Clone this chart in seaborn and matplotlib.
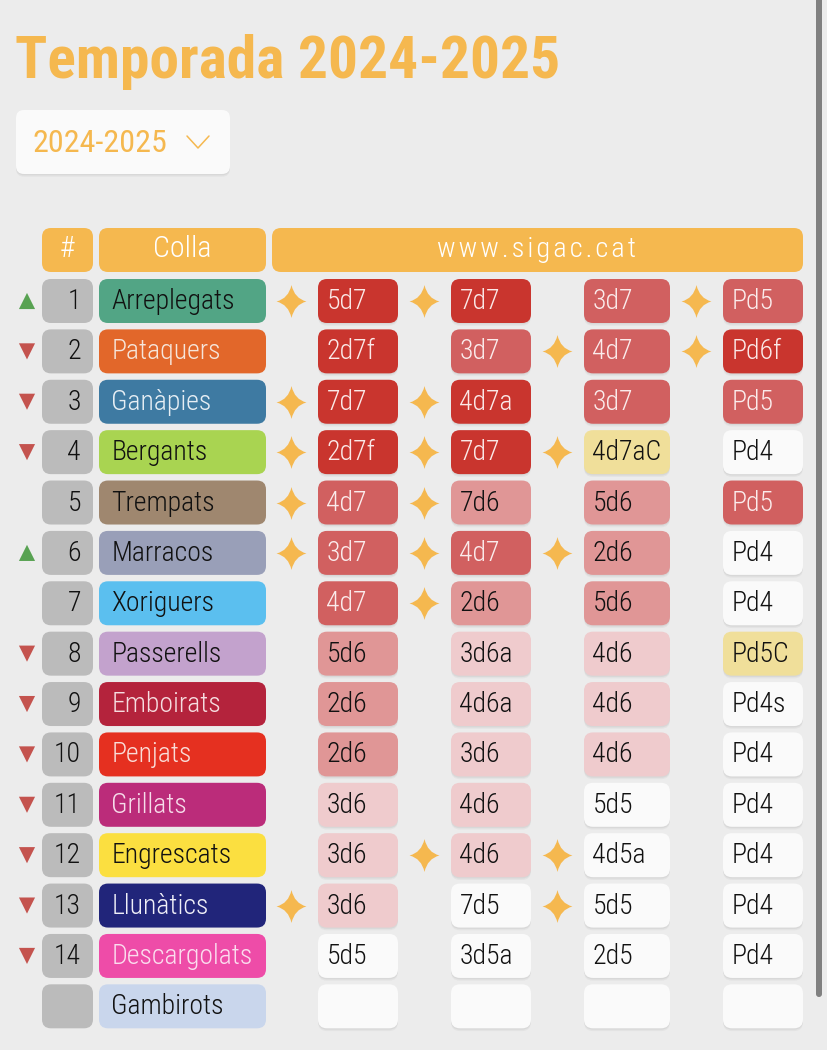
#!/usr/bin/env python3
"""Temporada 2024-2025 table."""
import pandas as pd
import seaborn as sns
from matplotlib import pyplot as plt
from matplotlib import patheffects as pe
from matplotlib.patches import FancyBboxPatch
from matplotlib.path import Path

sns.set_theme(style='white')
plt.rcParams['font.family'] = ['Roboto Condensed', 'Roboto', 'DejaVu Sans']

# %% Data
colles = ['Arreplegats', 'Pataquers', 'Ganàpies', 'Bergants', 'Trempats', 'Marracos', 'Xoriguers',
          'Passerells', 'Emboirats', 'Penjats', 'Grillats', 'Engrescats', 'Llunàtics', 'Descargolats', 'Gambirots']
posicio = ['1', '2', '3', '4', '5', '6', '7', '8', '9', '10', '11', '12', '13', '14', '']
tendencia = ['up', 'down', 'down', 'down', '', 'up', '', 'down', 'down', 'down', 'down', 'down', 'down', 'down', '']
colla_color = ['#52A585', '#E2672A', '#3E7AA2', '#A9D451', '#9F876F', '#999FB8', '#5BBFEF', '#C3A2CD',
               '#B4233C', '#E53020', '#BB2C7A', '#FBDF40', '#21257A', '#EE4CA8', '#C9D6EC']
colla_text = ['#111', '#F6E5DA', '#E6EEF4', '#111', '#111', '#111', '#111', '#111',
              '#F6DDE0', '#F9DDD8', '#F6DDEA', '#111', '#F0F0F8', '#FBDDEE', '#111']

ronda1 = ['5d7', '2d7f', '7d7', '2d7f', '4d7', '3d7', '4d7', '5d6', '2d6', '2d6', '3d6', '3d6', '3d6', '5d5', '']
ronda2 = ['7d7', '3d7', '4d7a', '7d7', '7d6', '4d7', '2d6', '3d6a', '4d6a', '3d6', '4d6', '4d6', '7d5', '3d5a', '']
ronda3 = ['3d7', '4d7', '3d7', '4d7aC', '5d6', '2d6', '5d6', '4d6', '4d6', '4d6', '5d5', '4d5a', '5d5', '2d5', '']
ronda4 = ['Pd5', 'Pd6f', 'Pd5', 'Pd4', 'Pd5', 'Pd4', 'Pd4', 'Pd5C', 'Pd4s', 'Pd4', 'Pd4', 'Pd4', 'Pd4', 'Pd4', '']
nivell1 = [0, 0, 0, 0, 1, 1, 1, 2, 2, 2, 3, 3, 3, 4, 4]
nivell2 = [0, 1, 0, 0, 2, 1, 2, 3, 3, 3, 3, 3, 4, 4, 4]
nivell3 = [1, 1, 1, 5, 2, 2, 2, 3, 3, 3, 4, 4, 4, 4, 4]
nivell4 = [1, 0, 1, 4, 1, 4, 4, 5, 4, 4, 4, 4, 4, 4, 4]
estrella1 = [0, 2, 3, 4, 5, 12]
estrella2 = [0, 2, 3, 4, 5, 6, 11]
estrella3 = [1, 3, 5, 11, 12]
estrella4 = [0, 1]

rondes = [ronda1, ronda2, ronda3, ronda4]
nivells = [nivell1, nivell2, nivell3, nivell4]
estrelles = [estrella1, estrella2, estrella3, estrella4]

# %% Style
ORANGE = '#F5B84F'
BG = '#ECECEC'
nivell_color = ['#C9352E', '#D16060', '#E09696', '#EFCBCD', '#FAFAFA', '#F0DF9A']
nivell_text = ['#FBE9E8', '#FBECEC', '#111', '#111', '#111', '#111']
col_left = [318, 451, 584, 723]
col_width = [80, 80, 86, 80]
ROW0, ROW_STEP, ROW_H = 279, 50.38, 44
FS = 20


def box(ax, x0, y0, x1, y1, color, r=9, shadow=False, zorder=2):
    p = FancyBboxPatch((x0 + r, y0 + r), x1 - x0 - 2*r, y1 - y0 - 2*r,
                       boxstyle='round,pad=%d,rounding_size=%d' % (r, r),
                       facecolor=color, edgecolor='none', zorder=zorder)
    if shadow:
        p.set_path_effects([pe.SimplePatchShadow(offset=(0, -2), shadow_rgbFace='k', alpha=0.04),
                            pe.SimplePatchShadow(offset=(0, -1), shadow_rgbFace='k', alpha=0.05),
                            pe.Normal()])
    ax.add_patch(p)


# %% Figure
fig = plt.figure(figsize=(8.28, 10.5), dpi=100, facecolor=BG)
ax = fig.add_axes([0, 0, 1, 1])
ax.set_axis_off()

# scrollbar
box(ax, 816, -20, 822, 997, '#808080', r=3)

# title and selector
ax.text(15.5, 78, 'Temporada 2024-2025', color=ORANGE, fontsize=42.8, fontweight='bold', va='baseline')
box(ax, 16, 110, 230, 174, '#FAFAFA', r=8, shadow=True)
ax.text(32.5, 152, '2024-2025', color=ORANGE, fontsize=23, va='baseline')
ax.plot([187, 198, 209], [136, 148, 136], color=ORANGE, lw=1.1, zorder=3)

# header
box(ax, 42, 228, 93, 272, ORANGE)
box(ax, 99, 228, 266, 272, ORANGE)
box(ax, 272, 228, 803, 272, ORANGE)
ax.text(67.5, 257, '#', color='white', fontsize=21, fontweight='light', ha='center', va='baseline')
ax.text(182.5, 257, 'Colla', color='white', fontsize=21.5, fontweight='light', ha='center', va='baseline')
ax.text(537, 257, '\u200a'.join('www.sigac.cat'), color='white', fontsize=20.5, fontweight='light',
        ha='center', va='baseline')

# rows
for i, colla in enumerate(colles):
    top = ROW0 + i*ROW_STEP
    box(ax, 42, top, 93, top + ROW_H, '#BBBBBB')
    box(ax, 99, top, 266, top + ROW_H, colla_color[i])
    ax.text(81, top + 30, posicio[i], color='#111', fontsize=FS, fontweight='light', ha='right', va='baseline', zorder=4)
    ax.text(111.5, top + 30, colla, color=colla_text[i], fontsize=FS, fontweight='light', va='baseline', zorder=4)
    for c in range(4):
        lvl = nivells[c][i]
        box(ax, col_left[c], top, col_left[c] + col_width[c], top + ROW_H, nivell_color[lvl], shadow=True)
        ax.text(col_left[c] + 8.5, top + 30, rondes[c][i], color=nivell_text[lvl], fontsize=FS,
                fontweight='light', va='baseline', zorder=4)

# castells descarregats
star = Path([(0, 1.1), (0.2, 0.2), (1, 0), (0.2, -0.2), (0, -1.1), (-0.2, -0.2), (-1, 0), (-0.2, 0.2), (0, 1.1)],
            [Path.MOVETO] + [Path.CURVE3]*8)
star_df = pd.DataFrame({'x': [col_left[c] - 27 for c in range(4) for _ in estrelles[c]],
                        'y': [ROW0 + i*ROW_STEP + ROW_H/2 for c in range(4) for i in estrelles[c]]})
sns.scatterplot(data=star_df, x='x', y='y', marker=star, s=560, color=ORANGE, linewidth=0, legend=False, ax=ax, zorder=3)

# tendencia
trend_df = pd.DataFrame({'x': 27, 'y': [ROW0 + i*ROW_STEP + ROW_H/2 for i in range(len(colles))], 'trend': tendencia})
trend_df = trend_df[trend_df['trend'] != '']
sns.scatterplot(data=trend_df, x='x', y='y', hue='trend', style='trend',
                markers={'up': '^', 'down': 'v'}, palette={'up': '#58A252', 'down': '#C4534E'},
                s=135, linewidth=0, legend=False, ax=ax, zorder=3)

ax.set_xlim(0, 828)
ax.set_ylim(1050, 0)
fig.savefig('out.png', dpi=100, facecolor=fig.get_facecolor())
